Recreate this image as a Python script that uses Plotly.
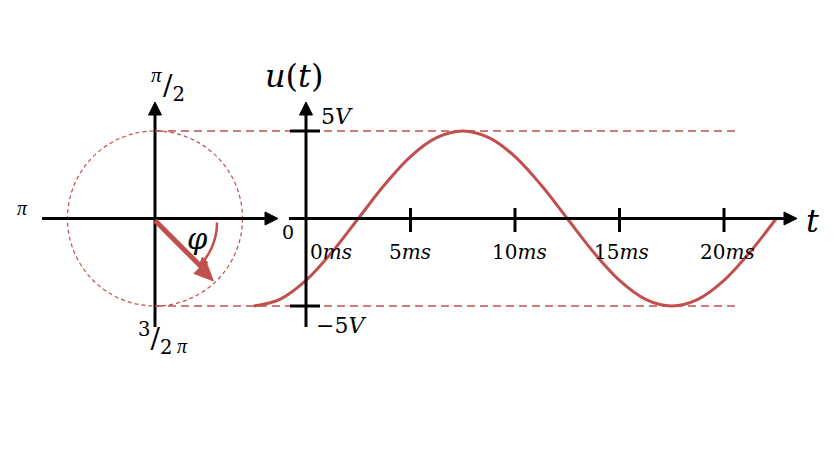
import math
import plotly.graph_objects as go

# ---------------- data ----------------
t_ms = [-2.5, -1.25, 0.0, 1.25, 2.5, 3.75, 5.0, 6.25, 7.5, 8.75, 10.0,
        11.25, 12.5, 13.75, 15.0, 16.25, 17.5, 18.75, 20.0, 21.25, 22.5]
u_V = [-5.0, -4.62, -3.54, -1.91, 0.0, 1.91, 3.54, 4.62, 5.0, 4.62, 3.54,
       1.91, 0.0, -1.91, -3.54, -4.62, -5.0, -4.62, -3.54, -1.91, 0.0]
t_ticks = [5, 10, 15, 20]
t_label_pos = [0, 5, 10, 15, 20]
t_labels = ["0<i>ms</i>", "5<i>ms</i>", "10<i>ms</i>", "15<i>ms</i>", "20<i>ms</i>"]
v_ticks = [5, -5]
v_labels = ["5<i>V</i>", "\u22125<i>V</i>"]
amplitude_V = 5
phase_deg = -45

# ---------------- layout constants ----------------
W, H = 840, 463
OFF = 8  # page body margin: the plot div starts 8px from the page corner
X0_PX, PX_PER_MS = 306.0, 20.9
Y0_PX, PX_PER_V = 218.5, 17.5
RED = "#C0504D"
BLACK = "#000000"
FONT = "DejaVu Serif"
PI_FONT = "Liberation Serif"

xr = [(OFF - X0_PX) / PX_PER_MS, (W + OFF - X0_PX) / PX_PER_MS]
yr = [-(H + OFF - Y0_PX) / PX_PER_V, (Y0_PX - OFF) / PX_PER_V]

shapes = []
annotations = []


def pline(x0, y0, x1, y1, color=BLACK, width=3, dash="solid"):
    shapes.append(dict(type="line", xref="x2", yref="y2", x0=x0, y0=y0, x1=x1, y1=y1,
                       line=dict(color=color, width=width, dash=dash), layer="above"))


def ptri(tipx, tipy, dx, dy, length, half, color=BLACK):
    n = math.hypot(dx, dy)
    ux, uy = dx / n, dy / n
    bx, by = tipx - ux * length, tipy - uy * length
    px, py = -uy, ux
    path = (f"M {tipx},{tipy} L {bx + px * half},{by + py * half} "
            f"L {bx - px * half},{by - py * half} Z")
    shapes.append(dict(type="path", xref="x2", yref="y2", path=path,
                       fillcolor=color, line=dict(color=color, width=1), layer="above"))


def ptext(x, y, text, size, xanchor="center", color=BLACK, family=FONT):
    annotations.append(dict(xref="x2", yref="y2", x=x, y=y, text=text, showarrow=False,
                            xanchor=xanchor, yanchor="middle",
                            font=dict(family=family, size=size, color=color)))


# ---------------- phasor diagram (pixel space) ----------------
CX, CY = 155.0, Y0_PX
R = amplitude_V * PX_PER_V
shapes.append(dict(type="circle", xref="x2", yref="y2", x0=CX - R, x1=CX + R,
                   y0=CY - R, y1=CY + R, line=dict(color=RED, width=1.2, dash="4px,3px")))
# axes
pline(42, CY, 268, CY)
ptri(278, CY, 1, 0, 13, 6.5)
pline(CX, 327, CX, 112)
ptri(CX, 102, 0, -1, 13, 6.5)
# phasor arrow
ang = math.radians(-phase_deg)
L = 84
tipx, tipy = CX + L * math.cos(ang), CY + L * math.sin(ang)
pline(CX, CY + 2, CX + (L - 16) * math.cos(ang), CY + 2 + (L - 16) * math.sin(ang), RED, 5)
ptri(tipx - 1, tipy + 3, math.cos(ang), math.sin(ang), 19, 8.5, RED)
# angle arc
ra = 62
pts = [(CX + ra * math.cos(math.radians(a)), CY + 4 + ra * math.sin(math.radians(a)))
       for a in [i * 1.0 for i in range(0, 39)]]
path = "M " + " L ".join(f"{x:.2f},{y:.2f}" for x, y in pts)
shapes.append(dict(type="path", xref="x2", yref="y2", path=path,
                   line=dict(color=RED, width=2.5), layer="above"))
a_end = math.radians(45)
ptri(CX + ra * math.cos(a_end), CY + 4 + ra * math.sin(a_end),
     -math.sin(a_end), math.cos(a_end), 9, 4, RED)

ptext(197, 239, "<i>\u03c6</i>", 29)
ptext(22, 208, "<i>\u03c0</i>", 20, family=PI_FONT)
ptext(156, 75, "<i>\u03c0</i>", 21, family=PI_FONT)
ptext(174, 87, "/<sub>2</sub>", 28)
ptext(155, 338, "<sup>3</sup>/<sub>2</sub>", 28)
ptext(182, 346, "<i>\u03c0</i>", 20, family=PI_FONT)
ptext(288, 232, "0", 19)

# ---------------- waveform axes (pixel space) ----------------
pline(289, Y0_PX, 785, Y0_PX)
ptri(797, Y0_PX, 1, 0, 13, 6.5)
pline(X0_PX, 327, X0_PX, 112)
ptri(X0_PX, 102, 0, -1, 13, 6.5)
ptext(294, 76, "<i>u</i>(<i>t</i>)", 32)
ptext(812, 221, "<i>t</i>", 32)

# dashed amplitude guides (x in px, y in volts)
for v in v_ticks:
    shapes.append(dict(type="line", xref="x2", yref="y", x0=CX, x1=735, y0=v, y1=v,
                       line=dict(color=RED, width=1.5, dash="8px,5px")))
    shapes.append(dict(type="line", xref="x2", yref="y", x0=290, x1=320, y0=v, y1=v,
                       line=dict(color=BLACK, width=3), layer="above"))

# t-axis ticks (x in ms, y in px)
for tk in t_ticks:
    shapes.append(dict(type="line", xref="x", yref="y2", x0=tk, x1=tk, y0=208, y1=232,
                       line=dict(color=BLACK, width=3), layer="above"))

label_shift = [25, -1, 4, 2, 3]
for tk, lab, sh in zip(t_label_pos, t_labels, label_shift):
    annotations.append(dict(xref="x", yref="y2", x=tk, y=252, xshift=sh, text=lab,
                            showarrow=False, xanchor="center", yanchor="middle",
                            font=dict(family=FONT, size=20, color=BLACK)))

annotations.append(dict(xref="x2", yref="y", x=319, y=v_ticks[0], yshift=15, text=v_labels[0],
                        showarrow=False, xanchor="left", yanchor="middle",
                        font=dict(family=FONT, size=22, color=BLACK)))
annotations.append(dict(xref="x2", yref="y", x=314, y=v_ticks[1], yshift=-19, text=v_labels[1],
                        showarrow=False, xanchor="left", yanchor="middle",
                        font=dict(family=FONT, size=22, color=BLACK)))

# ---------------- figure ----------------
fig = go.Figure()
fig.add_trace(go.Scatter(x=t_ms, y=u_V, mode="lines",
                         line=dict(color=RED, width=3, shape="spline", smoothing=1.0),
                         hoverinfo="skip", showlegend=False))
fig.add_trace(go.Scatter(x=[OFF + 1], y=[OFF + 1], xaxis="x2", yaxis="y2", mode="markers",
                         marker=dict(opacity=0), hoverinfo="skip", showlegend=False))

fig.update_layout(
    width=W, height=H,
    margin=dict(l=0, r=0, t=0, b=0),
    paper_bgcolor="white", plot_bgcolor="white",
    xaxis=dict(range=xr, visible=False, fixedrange=True),
    yaxis=dict(range=yr, visible=False, fixedrange=True),
    xaxis2=dict(range=[OFF, W + OFF], visible=False, overlaying="x", side="top", fixedrange=True),
    yaxis2=dict(range=[H + OFF, OFF], visible=False, overlaying="y", side="right", fixedrange=True),
    shapes=shapes, annotations=annotations, showlegend=False,
)

fig.write_html("out.html")
